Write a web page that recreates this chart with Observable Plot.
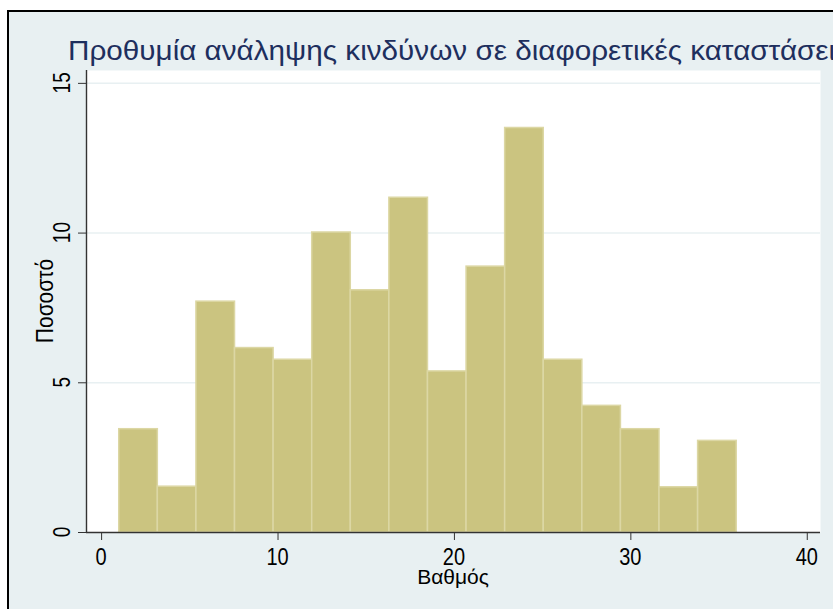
<!DOCTYPE html>
<html>
<head>
<meta charset="utf-8">
<script src="https://cdn.jsdelivr.net/npm/d3@7"></script>
<script src="https://cdn.jsdelivr.net/npm/@observablehq/plot@0.6"></script>
<style>
html, body { margin: 0; padding: 0; background: #ffffff; }
body { width: 833px; height: 609px; overflow: hidden; position: relative; }
#bg { position: absolute; left: 7px; top: 10px; width: 880px; height: 660px;
      border-left: 2px solid #000; border-top: 2px solid #000; background: #e8f0f2; }
</style>
</head>
<body>
<div id="bg"></div>
<script>
// ---- data ----
const titleText = "Προθυμία ανάληψης κινδύνων σε διαφορετικές καταστάσεις";
const xLabel = "Βαθμός";
const yLabel = "Ποσοστό";
const binStart = 1;          // left edge of first bin
const binWidth = 2.1875;     // width of each bin
const percent = [3.45, 1.53, 7.71, 6.16, 5.77, 10.02, 8.09, 11.18, 5.38, 8.88, 13.51, 5.77, 4.23, 3.45, 1.51, 3.06];
const xTicks = [0, 10, 20, 30, 40];
const yTicks = [0, 5, 10, 15];
const gridVals = [5, 10, 15];
const xDomain = [-0.856, 40.75];
const yDomain = [0, 15.43];

const bins = percent.map((p, i) => ({x1: binStart + i * binWidth, x2: binStart + (i + 1) * binWidth, pct: p}));

const axisColor = "#333333";
const plot = Plot.plot({
  width: 833,
  height: 609,
  marginLeft: 86,
  marginTop: 70,
  marginRight: 13,
  marginBottom: 77,
  x: {domain: xDomain},
  y: {domain: yDomain},
  style: {background: "transparent", overflow: "visible"},
  marks: [
    Plot.frame({fill: "#ffffff", stroke: "none"}),
    Plot.ruleY(gridVals, {stroke: "#e8f0f2", strokeWidth: 1.5}),
    Plot.rectY(bins, {x1: "x1", x2: "x2", y: "pct", fill: "#cbc480", stroke: "#dcd7a4", strokeWidth: 1.5}),
    Plot.ruleY([0], {stroke: axisColor, strokeWidth: 1.4}),
    Plot.ruleX([xDomain[0]], {stroke: axisColor, strokeWidth: 1.4}),
    Plot.axisX({ticks: xTicks, tickSize: 8, tickFormat: () => "", label: null, stroke: axisColor}),
    Plot.axisY({ticks: yTicks, tickSize: 8, tickFormat: () => "", label: null, stroke: axisColor})
  ]
});
plot.style.position = "absolute";
plot.style.left = "0px";
plot.style.top = "0px";
document.body.appendChild(plot);

const sx = plot.scale("x"), sy = plot.scale("y");
const svg = d3.select(plot);
const F = '"Liberation Sans", Arial, Helvetica, sans-serif';

// title (runs off the right edge, as in the reference)
svg.append("text")
  .attr("transform", "translate(68,60) scale(1.06,1)")
  .attr("text-anchor", "start")
  .attr("font-family", F).attr("font-size", 28)
  .attr("fill", "#1e2f5e")
  .text(titleText);

// x tick labels
const xBase = sy.apply(0) + 33;
xTicks.forEach(v => {
  svg.append("text")
    .attr("transform", `translate(${sx.apply(v)},${xBase}) scale(1,1.16)`)
    .attr("text-anchor", "middle")
    .attr("font-family", F).attr("font-size", 20).attr("fill", "#000")
    .text(v);
});

// y tick labels (rotated)
const yBase = sx.apply(xDomain[0]) - 16;
yTicks.forEach(v => {
  svg.append("text")
    .attr("transform", `translate(${yBase},${sy.apply(v)}) rotate(-90) scale(1,1.25)`)
    .attr("text-anchor", "middle")
    .attr("font-family", F).attr("font-size", 19).attr("fill", "#000")
    .text(v);
});

// axis titles
const yr = sy.range, xr = sx.range;
svg.append("text")
  .attr("transform", `translate(${sx.apply(xDomain[0]) - 32.7},${(yr[0] + yr[1]) / 2}) rotate(-90) scale(1,1.11)`)
  .attr("text-anchor", "middle")
  .attr("font-family", F).attr("font-size", 21).attr("fill", "#000")
  .text(yLabel);
svg.append("text")
  .attr("transform", `translate(${(xr[0] + xr[1]) / 2},${sy.apply(0) + 51.5})`)
  .attr("text-anchor", "middle")
  .attr("font-family", F).attr("font-size", 21).attr("fill", "#000")
  .text(xLabel);
</script>
</body>
</html>
